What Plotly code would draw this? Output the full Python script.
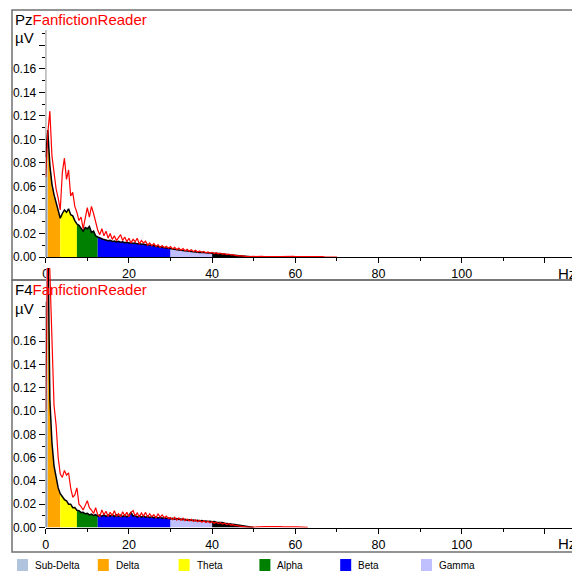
import plotly.graph_objects as go

# Frequency grid of the spectra (Hz), 0.5 Hz resolution
STEP = 0.5
FREQ = [i * STEP for i in range(141)]

# EEG bands: names, lower/upper edges (Hz) and fill colours
BAND_NAMES = ["Sub-Delta", "Delta", "Theta", "Alpha", "Beta", "Gamma"]
BAND_EDGES = [0, 0.5, 3.5, 7.5, 12.5, 30, 40]
BAND_COLORS = ["#b0c4de", "#ffa500", "#ffff00", "#008000", "#0000ff", "#c0c0ff"]
HIGH_FILL = "#000000"          # area above the gamma band
SPEC_END = 50                  # end of the filled reference spectrum

# Channel Pz: reference spectrum (black) and reader spectrum (red), µV
pz_ref = [
    0.085, 0.108, 0.078, 0.062, 0.053, 0.046, 0.040, 0.033, 0.037, 0.040,
    0.038, 0.041, 0.036, 0.035, 0.031, 0.028, 0.027, 0.024, 0.022, 0.025,
    0.024, 0.026, 0.021, 0.022, 0.018, 0.017, 0.016, 0.0155, 0.0148, 0.0140,
    0.0138, 0.0142, 0.0132, 0.0136, 0.0128, 0.0133, 0.0126, 0.0129, 0.0122, 0.0126,
    0.0120, 0.0122, 0.0116, 0.0119, 0.0112, 0.0115, 0.0108, 0.0110, 0.0104, 0.0106,
    0.0099, 0.0100, 0.0094, 0.0093, 0.0088, 0.0087, 0.0082, 0.0081, 0.0076, 0.0074,
    0.0070, 0.0068, 0.0064, 0.0063, 0.0059, 0.0058, 0.0054, 0.0054, 0.0050, 0.0049,
    0.0046, 0.0046, 0.0042, 0.0043, 0.0039, 0.0040, 0.0036, 0.0037, 0.0033, 0.0034,
    0.0031, 0.0031, 0.0029, 0.0029, 0.0026, 0.0026, 0.0023, 0.0023, 0.0020, 0.0018,
    0.0016, 0.0014, 0.0011, 0.0009, 0.0006, 0.0004, 0.0002, 0.0001, 0.0001, 0.0,
    0.0,
]
pz_reader = [
    0.068, 0.105, 0.124, 0.086, 0.072, 0.058, 0.050, 0.040, 0.072, 0.084,
    0.066, 0.074, 0.052, 0.055, 0.043, 0.038, 0.031, 0.034, 0.024, 0.035,
    0.042, 0.034, 0.043, 0.037, 0.030, 0.023, 0.019, 0.024, 0.018, 0.022,
    0.016, 0.020, 0.015, 0.018, 0.014, 0.017, 0.019, 0.014, 0.017, 0.013,
    0.016, 0.012, 0.015, 0.013, 0.016, 0.011, 0.014, 0.012, 0.0135, 0.010,
    0.012, 0.0095, 0.0115, 0.0088, 0.0105, 0.0082, 0.0098, 0.0079, 0.0092, 0.0075,
    0.0088, 0.0068, 0.0082, 0.0063, 0.0076, 0.0058, 0.0071, 0.0054, 0.0066, 0.0050,
    0.0062, 0.0046, 0.0057, 0.0043, 0.0052, 0.0039, 0.0047, 0.0036, 0.0043, 0.0033,
    0.0040, 0.0030, 0.0037, 0.0027, 0.0033, 0.0024, 0.0029, 0.0021, 0.0025, 0.0017,
    0.0020, 0.0013, 0.0014, 0.0009, 0.0009, 0.0005, 0.0006, 0.0004, 0.0005, 0.0003,
    0.0005, 0.0004, 0.0003, 0.0004, 0.0005, 0.0003, 0.0004, 0.0004, 0.0003, 0.0005,
    0.0004, 0.0003, 0.0004, 0.0004, 0.0005, 0.0003, 0.0004, 0.0003, 0.0004, 0.0005,
    0.0004, 0.0003, 0.0004, 0.0004, 0.0003, 0.0005, 0.0004, 0.0003, 0.0004, 0.0005,
    0.0004, 0.0003, 0.0004, 0.0003, 0.0002, 0.0002, 0.0001, 0.0001, 0.0, 0.0,
    0.0,
]

# Channel F4
f4_ref = [
    0.24, 0.26, 0.11, 0.073, 0.053, 0.042, 0.034, 0.029, 0.026, 0.024,
    0.023, 0.020, 0.020, 0.017, 0.0172, 0.0148, 0.0145, 0.0128, 0.0130, 0.0118,
    0.0122, 0.0108, 0.0115, 0.0103, 0.0110, 0.0098, 0.0108, 0.0096, 0.0110, 0.0094,
    0.0108, 0.0097, 0.0112, 0.0094, 0.0109, 0.0096, 0.0106, 0.0093, 0.0105, 0.0092,
    0.0103, 0.0130, 0.0098, 0.0104, 0.0090, 0.0101, 0.0089, 0.0099, 0.0087, 0.0096,
    0.0085, 0.0094, 0.0083, 0.0091, 0.0081, 0.0089, 0.0079, 0.0086, 0.0077, 0.0082,
    0.0074, 0.0079, 0.0071, 0.0076, 0.0069, 0.0073, 0.0066, 0.0070, 0.0063, 0.0067,
    0.0061, 0.0065, 0.0058, 0.0062, 0.0056, 0.0059, 0.0053, 0.0056, 0.0051, 0.0054,
    0.0049, 0.0051, 0.0045, 0.0046, 0.0041, 0.0042, 0.0037, 0.0037, 0.0032, 0.0031,
    0.0027, 0.0024, 0.0020, 0.0016, 0.0013, 0.0010, 0.0007, 0.0005, 0.0003, 0.0002,
    0.0001,
]
f4_reader = [
    0.10, 0.25, 0.22, 0.15, 0.105, 0.088, 0.060, 0.046, 0.043, 0.049,
    0.045, 0.047, 0.034, 0.026, 0.028, 0.034, 0.020, 0.018, 0.015, 0.019,
    0.023, 0.017, 0.015, 0.012, 0.017, 0.011, 0.0095, 0.015, 0.011, 0.014,
    0.0095, 0.013, 0.010, 0.0145, 0.0095, 0.012, 0.009, 0.0135, 0.0098, 0.013,
    0.0092, 0.0128, 0.0145, 0.0098, 0.0125, 0.009, 0.0125, 0.0098, 0.013, 0.009,
    0.0118, 0.0092, 0.011, 0.0082, 0.0118, 0.0088, 0.0108, 0.0082, 0.0098, 0.0076,
    0.0085, 0.0068, 0.0088, 0.0064, 0.0082, 0.0062, 0.0081, 0.0058, 0.0072, 0.0056,
    0.0070, 0.0052, 0.0066, 0.0050, 0.0062, 0.0046, 0.0058, 0.0043, 0.0054, 0.0040,
    0.0050, 0.0037, 0.0046, 0.0033, 0.0042, 0.0030, 0.0037, 0.0026, 0.0032, 0.0021,
    0.0025, 0.0017, 0.0018, 0.0011, 0.0011, 0.0006, 0.0006, 0.0003, 0.0002, 0.0002,
    0.0003, 0.0004, 0.0006, 0.0008, 0.0007, 0.0009, 0.0008, 0.0007, 0.0008, 0.0006,
    0.0007, 0.0008, 0.0006, 0.0007, 0.0006, 0.0007, 0.0006, 0.0005, 0.0006, 0.0005,
    0.0006, 0.0005, 0.0004, 0.0004, 0.0003, 0.0002, 0.0001,
]

SUBJECT = "FanfictionReader"

# Axis ticks
X_MAJOR = [0, 20, 40, 60, 80, 100, 120]
X_LABELS = ["0", "20", "40", "60", "80", "100", ""]
X_MINOR = [10, 30, 50, 70, 90, 110]
Y_MAJOR = [0.0, 0.02, 0.04, 0.06, 0.08, 0.10, 0.12, 0.14, 0.16, 0.18]
Y_LABELS = ["0.00", "0.02", "0.04", "0.06", "0.08", "0.10", "0.12", "0.14", "0.16", ""]
Y_MINOR = [0.01, 0.03, 0.05, 0.07, 0.09, 0.11, 0.13, 0.15, 0.17, 0.19]
Y_AXIS_TOP = 0.194
X_MAX = 126.5

W, H = 572, 571
FONT = "Liberation Sans, Arial, sans-serif"


def px(x):
    return x / W


def py(y):
    return 1 - y / H


fig = go.Figure()

panels = [
    # (channel, reference, reader, x axis, y axis, frame top/bottom, y domain, y max)
    ("Pz", pz_ref, pz_reader, "x", "y", 10, 280, (py(257), py(30)), 0.193),
    ("F4", f4_ref, f4_reader, "x2", "y2", 280, 552, (py(527.5), py(268)), 0.2229),
]

shapes = []
annotations = []

for ch, ref, reader, xa, ya, top, bot, ydom, ymax in panels:
    fx = FREQ[:len(ref)]
    # coloured band areas beneath the reference spectrum
    edges = BAND_EDGES + [SPEC_END]
    colors = BAND_COLORS + [HIGH_FILL]
    for k in range(len(colors)):
        lo, hi = edges[k], edges[k + 1]
        bx = [f for f in fx if lo <= f <= hi]
        by = [v for f, v in zip(fx, ref) if lo <= f <= hi]
        fig.add_trace(go.Scatter(
            x=bx, y=by, xaxis=xa, yaxis=ya, mode="lines",
            line=dict(width=0), fill="tozeroy", fillcolor=colors[k],
            hoverinfo="skip", showlegend=False))
    fig.add_trace(go.Scatter(
        x=fx, y=ref, xaxis=xa, yaxis=ya, mode="lines",
        line=dict(color="black", width=1.5), showlegend=False))
    fig.add_trace(go.Scatter(
        x=FREQ[:len(reader)], y=reader, xaxis=xa, yaxis=ya, mode="lines",
        line=dict(color="#ff0000", width=1.2), showlegend=False))

    # panel frame
    shapes.append(dict(type="rect", xref="paper", yref="paper",
                       x0=px(12), x1=px(W + 10), y0=py(bot), y1=py(top),
                       line=dict(color="#707070", width=1.5), layer="below"))
    # y axis line up to the last tick
    shapes.append(dict(type="line", xref=xa, yref=ya, x0=0, x1=0,
                       y0=0, y1=Y_AXIS_TOP, line=dict(color="black", width=1)))
    # channel + subject title, unit labels
    annotations.append(dict(
        xref="paper", yref="paper", x=px(13), y=py(top + 9),
        xanchor="left", yanchor="middle", showarrow=False,
        text=f"{ch}<span style='color:#ff0000'>{SUBJECT}</span>",
        font=dict(family=FONT, size=15, color="black")))
    annotations.append(dict(
        xref="paper", yref="paper", x=px(13), y=py(top + 28),
        xanchor="left", yanchor="middle", showarrow=False, text="µV",
        font=dict(family=FONT, size=15, color="black")))
    annotations.append(dict(
        xref="paper", yref="paper", x=px(556), y=py(top + 263),
        xanchor="left", yanchor="middle", showarrow=False, text="Hz",
        font=dict(family=FONT, size=15, color="black")))

# Band legend along the bottom
for i, (name, col) in enumerate(zip(BAND_NAMES, BAND_COLORS)):
    x0 = 17 + i * 80.8
    shapes.append(dict(type="rect", xref="paper", yref="paper",
                       x0=px(x0), x1=px(x0 + 11), y0=py(571), y1=py(559),
                       line=dict(width=0), fillcolor=col))
    annotations.append(dict(
        xref="paper", yref="paper", x=px(x0 + 16), y=py(565),
        xanchor="left", yanchor="middle", showarrow=False, text=name,
        font=dict(family=FONT, size=10, color="black")))

xaxis_style = dict(
    range=[0, X_MAX], domain=[px(45.7), 1], showline=True, linecolor="black",
    linewidth=1, ticks="outside", ticklen=5, tickcolor="black",
    tickvals=X_MAJOR, ticktext=X_LABELS, showgrid=False, zeroline=False,
    automargin=False,
    tickfont=dict(family=FONT, size=12.5, color="black"),
    minor=dict(tickvals=X_MINOR, ticks="outside", ticklen=3, tickcolor="black"),
)
yaxis_style = dict(
    showline=False, ticks="outside", ticklen=6, tickcolor="black",
    tickvals=Y_MAJOR, ticktext=Y_LABELS, showgrid=False, zeroline=False,
    automargin=False,
    tickfont=dict(family=FONT, size=12, color="black"),
    minor=dict(tickvals=Y_MINOR, ticks="outside", ticklen=3, tickcolor="black"),
)

fig.update_layout(
    width=W, height=H, margin=dict(l=0, r=0, t=0, b=0, autoexpand=False),
    paper_bgcolor="white", plot_bgcolor="rgba(0,0,0,0)",
    showlegend=False,
    xaxis=dict(**xaxis_style, anchor="y"),
    yaxis=dict(**yaxis_style, anchor="x", domain=list(panels[0][7]),
               range=[0, panels[0][8]]),
    xaxis2=dict(**xaxis_style, anchor="y2"),
    yaxis2=dict(**yaxis_style, anchor="x2", domain=list(panels[1][7]),
                range=[0, panels[1][8]]),
    shapes=shapes, annotations=annotations,
)

fig.write_html("out.html")
